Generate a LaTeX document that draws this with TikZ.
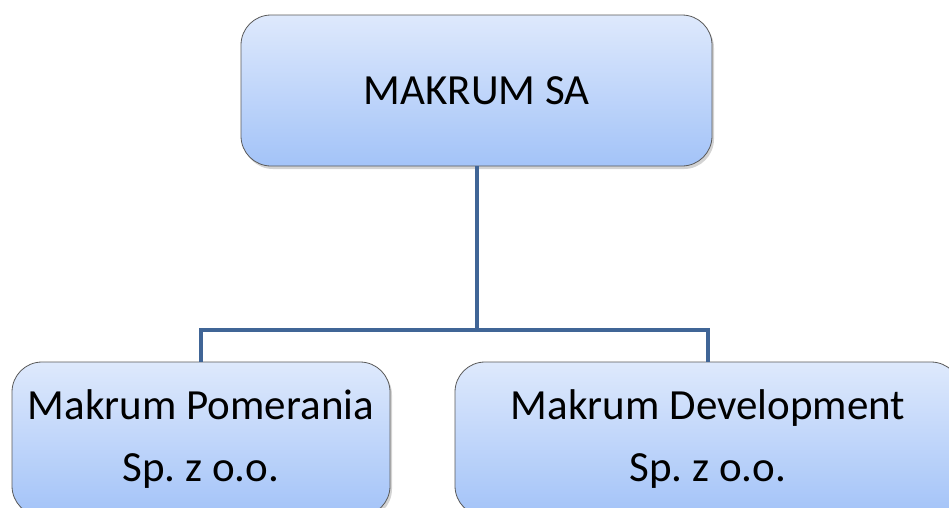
\documentclass[tikz,border=0pt]{standalone}
\usepackage{fontspec}
\setmainfont{Carlito}
\usetikzlibrary{shadows}
\definecolor{boxtop}{RGB}{222,233,252}
\definecolor{boxbottom}{RGB}{163,195,248}
\definecolor{linkblue}{RGB}{64,101,150}
\tikzset{
  orgbox/.style={rounded corners=30pt,draw=black!65,line width=0.8pt,
    top color=boxtop,bottom color=boxbottom,
    drop shadow={shadow xshift=2pt,shadow yshift=-3pt,opacity=0.35},
    align=center,font=\fontsize{43}{62}\selectfont,inner sep=0pt},
  link/.style={linkblue,line width=4pt}
}
\frenchspacing
\begin{document}
\begin{tikzpicture}[x=1pt,y=-1pt]
  \useasboundingbox (0,0) rectangle (949,507);
  % boxes
  \node[orgbox,minimum width=471pt,minimum height=151pt] (makrum) at (476.5,90.5) {MAKRUM SA};
  \node[orgbox,minimum width=378pt,minimum height=154pt] (pomerania) at (201,439) {Makrum Pomerania\\Sp. z o.o.};
  \node[orgbox,minimum width=506pt,minimum height=154pt] (development) at (708,439) {Makrum Development\\Sp. z o.o.};
  % links
  \coordinate (fork) at (476.5,330);
  \draw[link] (makrum.south) -- (fork);
  \draw[link] (fork) -| (pomerania.north);
  \draw[link] (fork) -| (development.north);
\end{tikzpicture}
\end{document}
